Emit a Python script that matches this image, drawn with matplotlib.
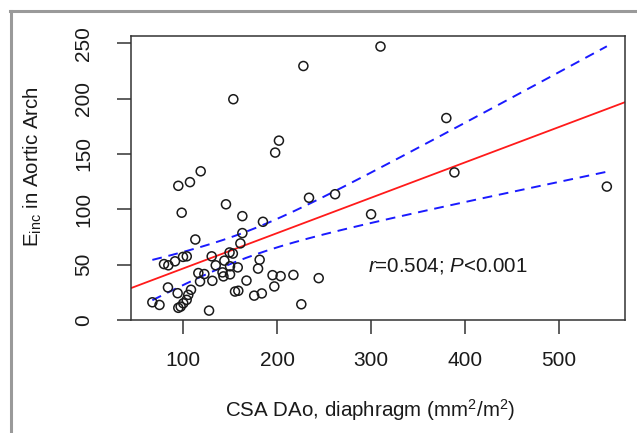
import matplotlib.pyplot as plt
from matplotlib.lines import Line2D
import numpy as np

plt.rcParams['font.family'] = ['Liberation Sans', 'DejaVu Sans']
plt.rcParams['mathtext.fontset'] = 'custom'
plt.rcParams['mathtext.rm'] = 'Liberation Sans'
plt.rcParams['mathtext.it'] = 'Liberation Sans:italic'

# CSA DAo at diaphragm (mm2/m2)
csa = [67.4, 75.0, 79.8, 84.4, 84.0, 91.5, 94.3, 95.0, 97.5, 100.3,
       103.9, 105.6, 108.5, 100.0, 104.0, 95.0, 107.4, 118.8, 98.6, 113.1,
       116.3, 122.7, 118.1, 131.2, 127.7, 130.5, 134.8, 142.0, 143.0, 150.0,
       150.0, 144.0, 149.5, 153.0, 158.2, 161.0, 163.1, 163.1, 145.7, 185.0,
       153.5, 155.3, 158.8, 167.5, 175.7, 183.8, 179.8, 181.5, 197.1, 195.2,
       203.8, 217.4, 225.8, 244.3, 198.0, 202.0, 228.0, 234.0, 261.7, 300.0,
       310.0, 380.0, 388.6, 550.7]
# E_inc in aortic arch
einc = [16.0, 13.6, 50.5, 49.4, 29.4, 53.0, 24.2, 11.0, 12.1, 15.1,
        18.2, 22.7, 27.3, 57.0, 57.5, 121.2, 124.5, 134.3, 96.9, 72.7,
        42.4, 41.5, 34.8, 35.4, 8.5, 57.5, 49.4, 43.0, 39.4, 41.2,
        48.5, 53.6, 61.0, 60.0, 47.5, 69.2, 78.5, 93.8, 104.5, 88.7,
        199.4, 25.7, 26.4, 35.6, 22.0, 24.0, 46.4, 54.4, 30.3, 40.5,
        39.6, 40.7, 14.2, 37.8, 151.2, 162.0, 229.4, 110.4, 113.6, 95.5,
        247.0, 182.4, 133.3, 120.5]

xticks = [100, 200, 300, 400, 500]
yticks = [0, 50, 100, 150, 200, 250]
annot = r'$r$=0.504; $P$<0.001'

x = np.array(csa)
y = np.array(einc)
n = len(x)

# least squares fit and 95% confidence band of the mean
slope, intercept = np.polyfit(x, y, 1)
resid = y - (intercept + slope * x)
s = np.sqrt(np.sum(resid ** 2) / (n - 2))
sxx = np.sum((x - x.mean()) ** 2)
t = 1.999
xs = np.linspace(x.min(), x.max(), 200)
fit = intercept + slope * xs
half = t * s * np.sqrt(1 / n + (xs - x.mean()) ** 2 / sxx)

fig = plt.figure(figsize=(6.37, 4.33), dpi=100)
ax = fig.add_axes([131 / 637, 1 - 320 / 433, 494 / 637, 284 / 433])

ax.scatter(x, y, s=42, facecolors='none', edgecolors='#1a1a1a', linewidths=1.1, zorder=3)
ax.axline((0, intercept), slope=slope, color='#ff1a1a', lw=1.3, zorder=2)
ax.plot(xs, fit + half, color='#1a1aff', lw=1.4, dashes=(5, 3.5), zorder=2)
ax.plot(xs, fit - half, color='#1a1aff', lw=1.4, dashes=(5, 3.5), zorder=2)

ax.set_xlim(44.7, 570)
ax.set_ylim(0, 256.5)
ax.set_xticks(xticks)
ax.set_yticks(yticks)
ax.tick_params(axis='both', direction='out', length=10, width=1.1, color='#333333',
               labelsize=15, labelcolor='#1a1a1a')
ax.tick_params(axis='x', pad=12)
ax.tick_params(axis='y', pad=17)
for lab in ax.get_yticklabels():
    lab.set_rotation(90)
    lab.set_va('center')
for sp in ax.spines.values():
    sp.set_color('#333333')
    sp.set_linewidth(1.1)

ax.set_xlabel(r'CSA DAo, diaphragm (mm$^2$/m$^2$)', fontsize=14.8, color='#1a1a1a')
ax.set_ylabel(r'E$_{\mathrm{inc}}$ in Aortic Arch', fontsize=14.8, color='#1a1a1a')
ax.xaxis.set_label_coords(0.484, -0.27)
ax.yaxis.set_label_coords(-0.177, 0.54)
ax.text(382, 48.5, annot, fontsize=14.8, color='#1a1a1a', ha='center', va='center')

# grey page frame on top and left
fig.add_artist(Line2D([10 / 637, 1], [1 - 10.5 / 433, 1 - 10.5 / 433], transform=fig.transFigure,
                      color='#9a9a9a', lw=2.2))
fig.add_artist(Line2D([10.5 / 637, 10.5 / 637], [0, 1 - 10.5 / 433], transform=fig.transFigure,
                      color='#9a9a9a', lw=2.2))

fig.savefig('out.png', dpi=100)
